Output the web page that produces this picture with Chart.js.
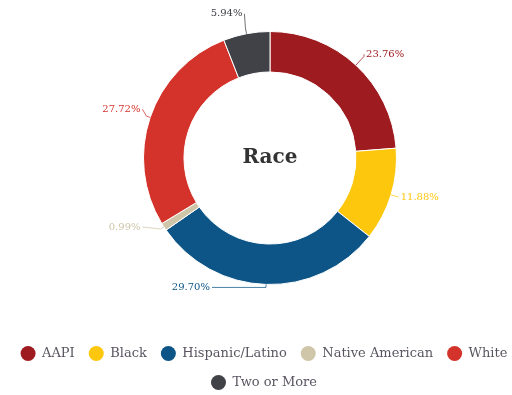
<!DOCTYPE html>
<html><head><meta charset="utf-8">
<script src="https://cdn.jsdelivr.net/npm/chart.js@4/dist/chart.umd.min.js"></script>
<style>html,body{margin:0;padding:0;background:#fff}#wrap{width:512px;height:395px;position:relative}</style>
</head><body><div id="wrap"><canvas id="c" width="512" height="395"></canvas></div>
<script>
// ---- data ----
const categories = ['AAPI', 'Black', 'Hispanic/Latino', 'Native American', 'White', 'Two or More'];
const percentages = [23.76, 11.88, 29.70, 0.99, 27.72, 5.94];
const valueLabels = ['23.76%', '11.88%', '29.70%', '0.99%', '27.72%', '5.94%'];
const centerTitle = 'Race';

// ---- styles ----
const colors = ['#9E1B20', '#FDC70E', '#0C5586', '#CFC5A8', '#D3332A', '#404247'];
const SERIF = '"DejaVu Serif", "Liberation Serif", serif';
// leader-line layout per label: radial extension, horizontal run, vertical rise
const leaderStyle = [
  {ext: 12, run: 0, rise: -2},
  {ext: 8, run: 0, rise: 0},
  {ext: 3, run: -54, rise: 0},
  {ext: 4, run: -18, rise: -2},
  {ext: 4, run: -4, rise: -7},
  {ext: 6, run: -1, rise: -14}
];

const areaPlugin = {
  id: 'areaFix',
  afterLayout(chart) {
    const a = chart.chartArea;
    a.left = 28; a.right = 512; a.top = 31; a.bottom = 285;
    a.width = a.right - a.left; a.height = a.bottom - a.top;
  }
};

const labelPlugin = {
  id: 'arcLabels',
  afterDatasetsDraw(chart) {
    const ctx = chart.ctx;
    const meta = chart.getDatasetMeta(0);
    ctx.save();
    meta.data.forEach((arc, i) => {
      const p = arc.getProps(['x', 'y', 'startAngle', 'endAngle', 'outerRadius'], true);
      const mid = (p.startAngle + p.endAngle) / 2;
      const s = leaderStyle[i];
      const x1 = p.x + Math.cos(mid) * p.outerRadius;
      const y1 = p.y + Math.sin(mid) * p.outerRadius;
      const x2 = p.x + Math.cos(mid) * (p.outerRadius + s.ext);
      const y2 = p.y + Math.sin(mid) * (p.outerRadius + s.ext);
      const x3 = x2 + s.run, y3 = y2 + s.rise;
      ctx.strokeStyle = colors[i];
      ctx.globalAlpha = 0.75;
      ctx.lineWidth = 1;
      ctx.beginPath();
      ctx.moveTo(x1, y1); ctx.lineTo(x2, y2); ctx.lineTo(x3, y3);
      ctx.stroke();
      ctx.globalAlpha = 1;
      ctx.fillStyle = colors[i];
      ctx.font = '10px ' + SERIF;
      ctx.textBaseline = 'middle';
      const left = Math.cos(mid) >= 0 && s.run >= 0;
      ctx.textAlign = left ? 'left' : 'right';
      ctx.fillText(valueLabels[i], x3 + (left ? 2 : -2), y3);
    });
    const c = meta.data[0];
    ctx.fillStyle = '#333';
    ctx.font = 'bold 20px ' + SERIF;
    ctx.textAlign = 'center';
    ctx.textBaseline = 'middle';
    ctx.fillText(centerTitle, c.x, c.y);
    ctx.restore();
  }
};

new Chart(document.getElementById('c'), {
  type: 'doughnut',
  data: {
    labels: categories,
    datasets: [{
      data: percentages,
      backgroundColor: colors,
      borderColor: '#ffffff',
      borderWidth: 1,
      hoverOffset: 0
    }]
  },
  options: {
    responsive: false,
    animation: false,
    cutout: '68%',
    layout: {padding: {top: 0, left: -4, right: -20, bottom: -5}},
    plugins: {
      tooltip: {enabled: false},
      legend: {
        position: 'bottom',
        labels: {
          boxWidth: 15,
          boxHeight: 15,
          padding: 14,
          color: '#5a5560',
          font: {family: SERIF, size: 13},
          generateLabels(chart) {
            const base = Chart.overrides.doughnut.plugins.legend.labels.generateLabels(chart);
            return base.map(item => Object.assign(item, {borderRadius: 7.5, lineWidth: 0, strokeStyle: 'rgba(0,0,0,0)'}));
          }
        }
      }
    }
  },
  plugins: [areaPlugin, labelPlugin]
});
</script>
</body></html>
